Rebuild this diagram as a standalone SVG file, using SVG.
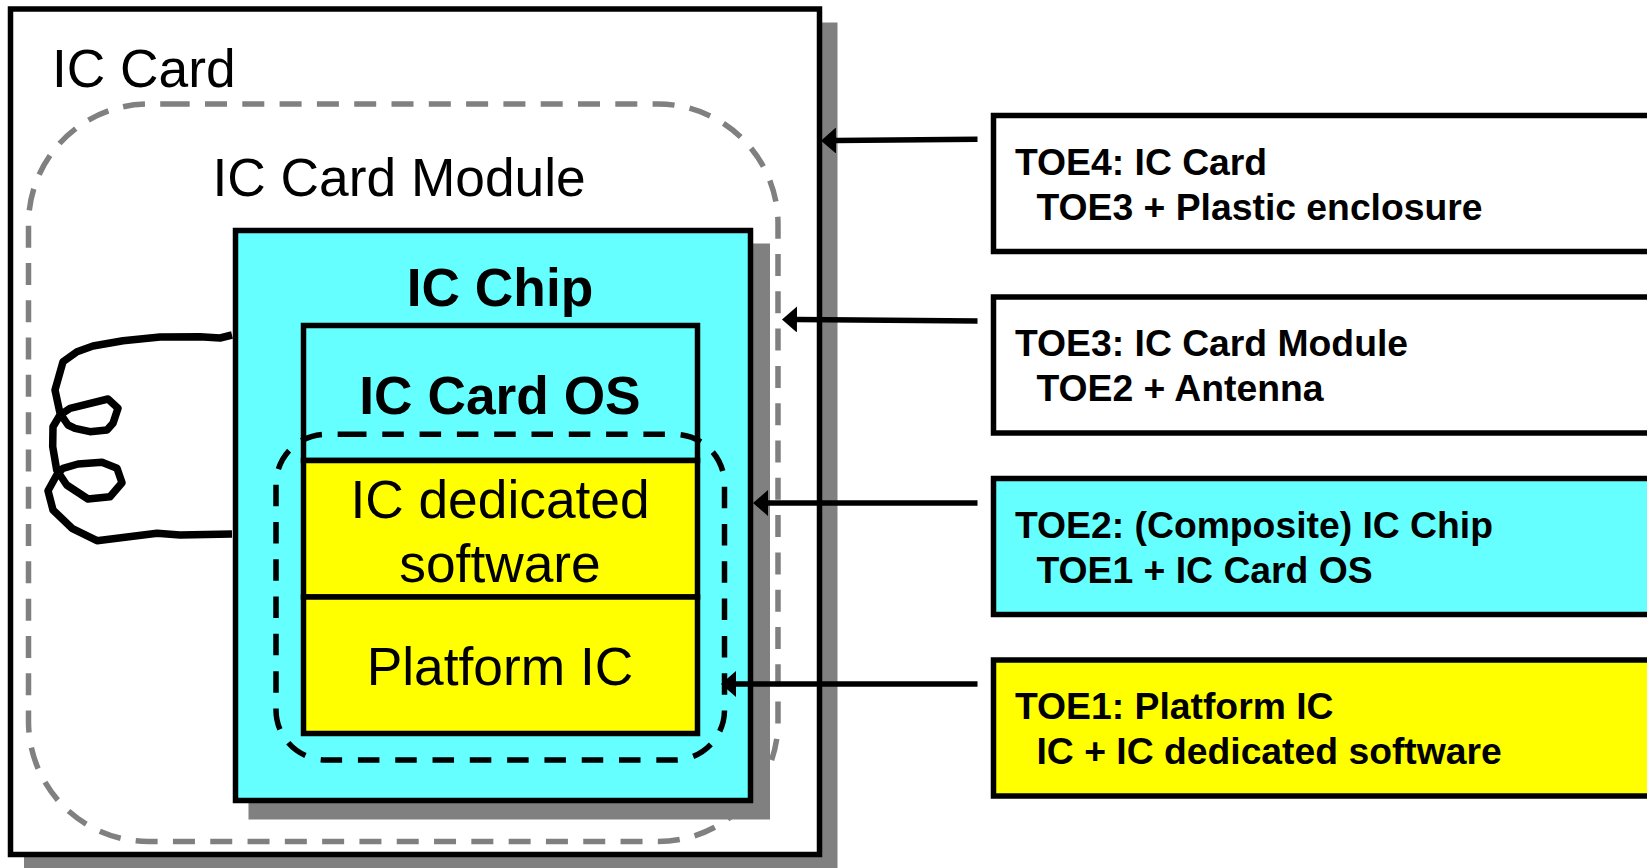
<svg xmlns="http://www.w3.org/2000/svg" width="1647" height="868" viewBox="0 0 1647 868">
<style>
text{font-family:"Liberation Sans",Arial,sans-serif;fill:#000}
.l{font-size:53.3px}
.lb{font-size:53.3px;font-weight:bold}
.m{text-anchor:middle}
.t{font-size:37.3px;font-weight:bold}
.box{stroke:#000;stroke-width:5.5}
.shadow{fill:#808080}
.conn{fill:none;stroke:#000;stroke-width:5.5}
</style>
<defs>
<marker id="ah" markerUnits="userSpaceOnUse" markerWidth="16" markerHeight="26" refX="0" refY="13" orient="auto"><path d="M15 13L0 0V26Z" fill="#000"/></marker>
</defs>
<g id="ic-card">
<rect class="shadow" x="24" y="22.5" width="813.5" height="846"/>
<rect class="box" x="10.5" y="9" width="809" height="845.5" fill="#fff"/>
<text class="l" x="52" y="86.5">IC Card</text>
</g>
<g id="ic-card-module">
<path d="M167.700 104H658A120 120 0 0 1 778 224V721.500A120 120 0 0 1 658 841.500H148.500A120 120 0 0 1 28.500 721.500V224A120 120 0 0 1 148.500 104Z" fill="none" stroke="#808080" stroke-width="5.500" stroke-dasharray="22 15.300"/>
<text class="l" x="212.500" y="196">IC Card Module</text>
</g>
<g id="antenna">
<path d="M232 335L220 338L200 336.700L160 337L123 340.700L93 346L77 351.700L63 361.700L55 390L60 413.300L68 425L75 428.300L90 431.700L107 430L113 423.300L118 408.300L108 399L70 408.300L60 415L53 426.700L52.700 446.700L56.700 470L66.700 485L88 499L110 496.700L122 482.700L117 468.300L102 462.300L78 464L63 468.300L56.700 475L48 490.700L53 510L72 528.300L97 540.700L157 533.300L180 535L232 534" fill="none" stroke="#000" stroke-width="7.500" stroke-linejoin="round"/>
</g>
<g id="ic-chip">
<rect class="shadow" x="248.500" y="243.500" width="521.500" height="576"/>
<rect class="box" x="235.500" y="230.500" width="515" height="570" fill="#66ffff"/>
<text class="lb m" x="500" y="306">IC Chip</text>
</g>
<g id="ic-card-os">
<rect class="box" x="303.500" y="325.500" width="394" height="135" fill="#66ffff"/>
<text class="lb m" x="500" y="413.500">IC Card OS</text>
</g>
<g id="ic-dedicated-software">
<rect class="box" x="303.500" y="460.500" width="394" height="136.500" fill="#ffff00"/>
<text class="l m" x="500" y="518">IC dedicated</text>
<text class="l m" x="500" y="582">software</text>
</g>
<g id="platform-ic">
<rect class="box" x="303.500" y="597" width="394" height="136.500" fill="#ffff00"/>
<text class="l m" x="500" y="685">Platform IC</text>
</g>
<g id="toe1-boundary">
<path d="M345 434.300H674.500A50 50 0 0 1 724.500 484.300V710A50 50 0 0 1 674.500 760H326A50 50 0 0 1 276 710V484.300A50 50 0 0 1 326 434.300Z" fill="none" stroke="#000" stroke-width="5.500" stroke-dasharray="21.500 15.800"/>
</g>
<g id="toe4">
<rect class="box" x="993.500" y="115.500" width="670" height="136" fill="#fff"/>
<text class="t" x="1015" y="175">TOE4: IC Card</text>
<text class="t" x="1036.500" y="220">TOE3 + Plastic enclosure</text>
</g>
<g id="toe3">
<rect class="box" x="993.500" y="297" width="670" height="136" fill="#fff"/>
<text class="t" x="1015" y="356">TOE3: IC Card Module</text>
<text class="t" x="1036.500" y="401">TOE2 + Antenna</text>
</g>
<g id="toe2">
<rect class="box" x="993.500" y="478.500" width="670" height="136" fill="#66ffff"/>
<text class="t" x="1015" y="538">TOE2: (Composite) IC Chip</text>
<text class="t" x="1036.500" y="583">TOE1 + IC Card OS</text>
</g>
<g id="toe1">
<rect class="box" x="993.500" y="660" width="670" height="136" fill="#ffff00"/>
<text class="t" x="1015" y="719">TOE1: Platform IC</text>
<text class="t" x="1036.500" y="764">IC + IC dedicated software</text>
</g>
<g id="connectors">
<path class="conn" marker-end="url(#ah)" d="M977.500 139.300L836 140.500"/>
<path class="conn" marker-end="url(#ah)" d="M977.500 321L797 319.500"/>
<path class="conn" marker-end="url(#ah)" d="M977.500 503L768 503"/>
<path class="conn" marker-end="url(#ah)" d="M977.500 684L736 684"/>
</g>
</svg>
